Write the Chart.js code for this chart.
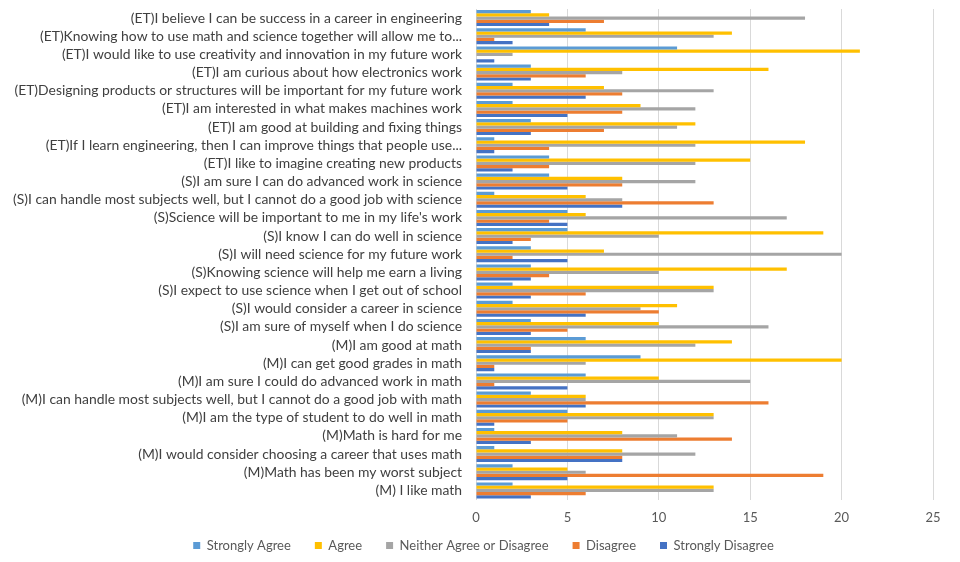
<!DOCTYPE html>
<html>
<head>
<meta charset="utf-8">
<script src="https://cdn.jsdelivr.net/npm/chart.js@4.4.1/dist/chart.umd.min.js"></script>
<style>
    html, body { margin: 0; padding: 0; background: #ffffff; }
    #wrap { width: 960px; height: 562px; }
</style>
</head>
<body>
<div id="wrap"><canvas id="chart"></canvas></div>
<script>
// questions, top to bottom as drawn
const categories = [
    '(ET)I believe I can be success in a career in engineering',
    '(ET)Knowing how to use math and science together will allow me to...',
    '(ET)I would like to use creativity and innovation in my future work',
    '(ET)I am curious about how electronics work',
    '(ET)Designing products or structures will be important for my future work',
    '(ET)I am interested in what makes machines work',
    '(ET)I am good at building and fixing things',
    '(ET)If I learn engineering, then I can improve things that people use...',
    '(ET)I like to imagine creating new products',
    '(S)I am sure I can do advanced work in science',
    '(S)I can handle most subjects well, but I cannot do a good job with science',
    "(S)Science will be important to me in my life's work",
    '(S)I know I can do well in science',
    '(S)I will need science for my future work',
    '(S)Knowing science will help me earn a living',
    '(S)I expect to use science when I get out of school',
    '(S)I would consider a career in science',
    '(S)I am sure of myself when I do science',
    '(M)I am good at math',
    '(M)I can get good grades in math',
    '(M)I am sure I could do advanced work in math',
    '(M)I can handle most subjects well, but I cannot do a good job with math',
    '(M)I am the type of student to do well in math',
    '(M)Math is hard for me',
    '(M)I would consider choosing a career that uses math',
    '(M)Math has been my worst subject',
    '(M) I like math'
];

const stronglyAgree    = [3, 6, 11, 3, 2, 2, 3, 1, 4, 4, 1, 5, 5, 3, 3, 2, 2, 3, 6, 9, 6, 3, 5, 1, 1, 2, 2];
const agree            = [4, 14, 21, 16, 7, 9, 12, 18, 15, 8, 6, 6, 19, 7, 17, 13, 11, 10, 14, 20, 10, 6, 13, 8, 8, 5, 13];
const neither          = [18, 13, 2, 8, 13, 12, 11, 12, 12, 12, 8, 17, 10, 20, 10, 13, 9, 16, 12, 6, 15, 6, 13, 11, 12, 6, 13];
const disagree         = [7, 1, 0, 6, 8, 8, 7, 4, 4, 8, 13, 4, 3, 2, 4, 6, 10, 5, 3, 1, 1, 16, 5, 14, 8, 19, 6];
const stronglyDisagree = [4, 2, 1, 3, 6, 5, 3, 1, 2, 5, 8, 5, 2, 5, 3, 3, 6, 3, 3, 1, 5, 6, 1, 3, 8, 5, 3];

const xTicks = [0, 5, 10, 15, 20, 25];

const seriesNames = ['Strongly Agree', 'Agree', 'Neither Agree or Disagree', 'Disagree', 'Strongly Disagree'];
const seriesColors = ['#5B9BD5', '#FFC000', '#A5A5A5', '#ED7D31', '#4472C4'];
const seriesData = [stronglyAgree, agree, neither, disagree, stronglyDisagree];

const FONT = 'Lato, "Open Sans", sans-serif';

// the legend in the original is centred a little right of the canvas middle
const legendShift = {
    id: 'legendShift',
    afterLayout: function (chart) {
        if (chart.legend) {
            chart.legend.left += 17;
            chart.legend.right += 17;
        }
    }
};

window.onload = function () {
    let datasets = [];
    for (let i = 0; i < seriesNames.length; i++) {
        datasets.push({
            label: seriesNames[i],
            data: seriesData[i],
            backgroundColor: seriesColors[i],
            borderWidth: 0,
            categoryPercentage: 0.88,
            barPercentage: 1.0
        });
    }

    let ctx = document.getElementById('chart').getContext('2d');
    new Chart(ctx, {
        type: 'bar',
        data: { labels: categories, datasets: datasets },
        plugins: [legendShift],
        options: {
            indexAxis: 'y',
            responsive: true,
            maintainAspectRatio: false,
            animation: false,
            layout: { padding: { top: 9, right: 27, bottom: 0, left: 0 } },
            scales: {
                x: {
                    min: 0,
                    max: 25,
                    afterBuildTicks: function (scale) {
                        scale.ticks = xTicks.map(v => ({ value: v }));
                    },
                    afterFit: function (scale) {
                        scale.height = 28.5;
                    },
                    grid: { color: '#d9d9d9', drawTicks: false },
                    border: { display: false },
                    ticks: {
                        padding: 11,
                        color: '#595959',
                        font: { family: FONT, size: 13 }
                    }
                },
                y: {
                    grid: { display: false, drawTicks: false },
                    border: { display: false },
                    afterFit: function (scale) {
                        scale.width = 476;
                        scale.paddingTop = 0;
                        scale.paddingBottom = 0;
                    },
                    ticks: {
                        autoSkip: false,
                        padding: 14,
                        color: '#404040',
                        font: { family: FONT, size: 13.9 }
                    }
                }
            },
            plugins: {
                legend: {
                    position: 'bottom',
                    labels: {
                        boxWidth: 7,
                        boxHeight: 7,
                        padding: 11,
                        color: '#595959',
                        font: { family: FONT, size: 13 },
                        // widen the gap between items without growing the legend height
                        generateLabels: function (chart) {
                            let items = Chart.defaults.plugins.legend.labels.generateLabels(chart);
                            for (let i = 0; i < items.length - 1; i++) {
                                items[i].text = items[i].text + '\u2002\u2002';
                            }
                            return items;
                        }
                    }
                },
                tooltip: { enabled: false }
            }
        }
    });
};
</script>
</body>
</html>
